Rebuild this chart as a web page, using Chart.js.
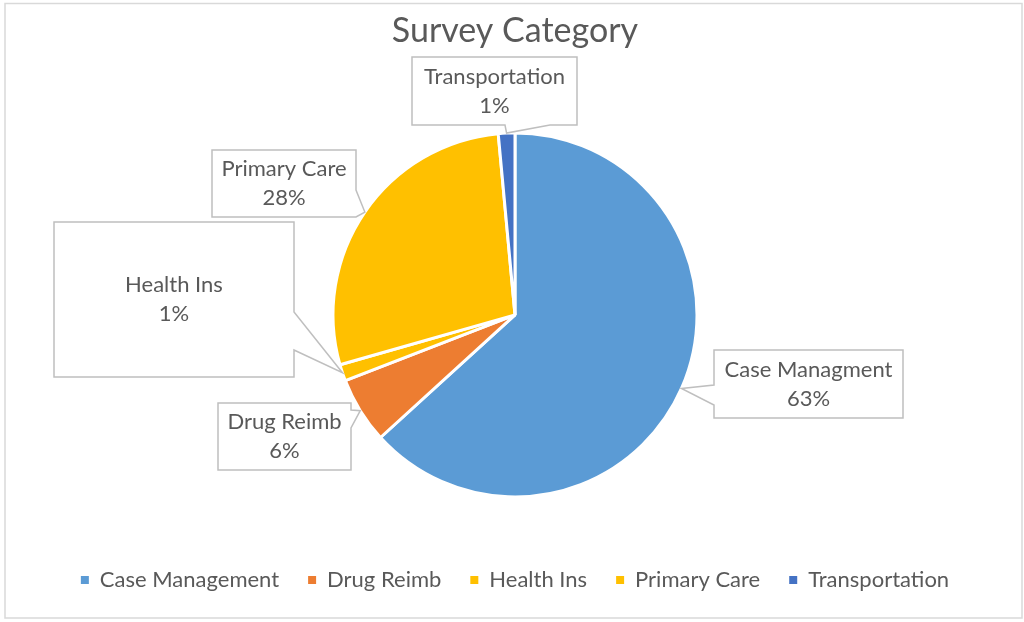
<!DOCTYPE html>
<html>
<head>
<meta charset="utf-8">
<title>Survey Category</title>
<script src="https://cdn.jsdelivr.net/npm/chart.js@4.4.1/dist/chart.umd.min.js"></script>
<style>
  html, body { margin: 0; padding: 0; background: #fff; }
  canvas { display: block; }
</style>
</head>
<body>
<canvas id="pieChart" width="1024" height="622"></canvas>
<script>
// survey responses per category
const categories = ['Case Management', 'Drug Reimb', 'Health Ins', 'Primary Care', 'Transportation'];
const calloutNames = ['Case Managment', 'Drug Reimb', 'Health Ins', 'Primary Care', 'Transportation'];
const counts = [43, 4, 1, 19, 1];

const sliceColors = ['#5B9BD5', '#ED7D31', '#FFC000', '#FFC000', '#4472C4'];
const textColor = '#595959';
const fontFamily = 'Lato, "Open Sans", sans-serif';

// callout boxes: [x, y, w, h], the side the pointer leaves from and where it joins that side
const callouts = [
  { box: [714, 350, 189, 68], side: 'left', base: [385, 405] },
  { box: [218, 403, 133, 67], side: 'right', base: [410, 428] },
  { box: [54, 222, 240, 155], side: 'right', base: [312, 350] },
  { box: [212, 150, 144, 67], side: 'right', base: [190, 217] },
  { box: [412, 57, 165, 68], side: 'bottom', base: [505, 550] }
];

function percentLabel(i) {
  const total = counts.reduce((a, b) => a + b, 0);
  return Math.round(counts[i] / total * 100) + '%';
}

function calloutPath(ctx, c, tip) {
  const [x, y, w, h] = c.box;
  const [a, b] = c.base;
  ctx.beginPath();
  ctx.moveTo(x, y);
  ctx.lineTo(x + w, y);
  if (c.side === 'right') {
    ctx.lineTo(x + w, a);
    ctx.lineTo(tip.x, tip.y);
    ctx.lineTo(x + w, b);
  }
  ctx.lineTo(x + w, y + h);
  if (c.side === 'bottom') {
    ctx.lineTo(b, y + h);
    ctx.lineTo(tip.x, tip.y);
    ctx.lineTo(a, y + h);
  }
  ctx.lineTo(x, y + h);
  if (c.side === 'left') {
    ctx.lineTo(x, b);
    ctx.lineTo(tip.x, tip.y);
    ctx.lineTo(x, a);
  }
  ctx.closePath();
}

const frame = {
  id: 'frame',
  beforeDraw(chart) {
    const ctx = chart.ctx;
    ctx.save();
    ctx.fillStyle = '#fff';
    ctx.fillRect(0, 0, chart.width, chart.height);
    ctx.strokeStyle = '#D9D9D9';
    ctx.lineWidth = 1.5;
    ctx.strokeRect(5, 3.5, 1017, 614.5);
    ctx.restore();
  }
};

const calloutLabels = {
  id: 'calloutLabels',
  afterDatasetsDraw(chart) {
    const ctx = chart.ctx;
    const meta = chart.getDatasetMeta(0);
    ctx.save();
    meta.data.forEach((arc, i) => {
      const p = arc.getProps(['x', 'y', 'startAngle', 'endAngle', 'outerRadius'], true);
      const mid = (p.startAngle + p.endAngle) / 2;
      const tip = { x: p.x + Math.cos(mid) * p.outerRadius, y: p.y + Math.sin(mid) * p.outerRadius };
      const c = callouts[i];
      calloutPath(ctx, c, tip);
      ctx.fillStyle = '#fff';
      ctx.fill();
      ctx.strokeStyle = '#BFBFBF';
      ctx.lineWidth = 1.5;
      ctx.stroke();

      const [x, y, w, h] = c.box;
      ctx.fillStyle = textColor;
      ctx.font = '22px ' + fontFamily;
      ctx.textAlign = 'center';
      ctx.textBaseline = 'middle';
      ctx.fillText(calloutNames[i], x + w / 2, y + h / 2 - 14.5);
      ctx.fillText(percentLabel(i), x + w / 2, y + h / 2 + 14.5);
    });
    ctx.restore();
  }
};

new Chart(document.getElementById('pieChart').getContext('2d'), {
  type: 'pie',
  data: {
    labels: categories,
    datasets: [{
      data: counts,
      backgroundColor: sliceColors,
      borderColor: '#fff',
      borderWidth: 3,
      hoverOffset: 0,
      radius: 182
    }]
  },
  options: {
    responsive: false,
    animation: false,
    events: [],
    layout: { padding: { left: 6, right: 0, top: 0, bottom: 21 } },
    plugins: {
      title: {
        display: true,
        text: 'Survey Category',
        color: textColor,
        font: { family: fontFamily, size: 34, weight: 'normal' },
        padding: { top: 11, bottom: 38 }
      },
      legend: {
        position: 'bottom',
        labels: {
          color: textColor,
          font: { family: fontFamily, size: 22 },
          boxWidth: 8,
          boxHeight: 8,
          padding: 29,
          // solid squares, without the white slice border
          generateLabels(chart) {
            const items = Chart.overrides.pie.plugins.legend.labels.generateLabels(chart);
            items.forEach(item => {
              item.lineWidth = 0;
              item.strokeStyle = item.fillStyle;
            });
            return items;
          }
        }
      },
      tooltip: { enabled: false }
    }
  },
  plugins: [frame, calloutLabels]
});
</script>
</body>
</html>
